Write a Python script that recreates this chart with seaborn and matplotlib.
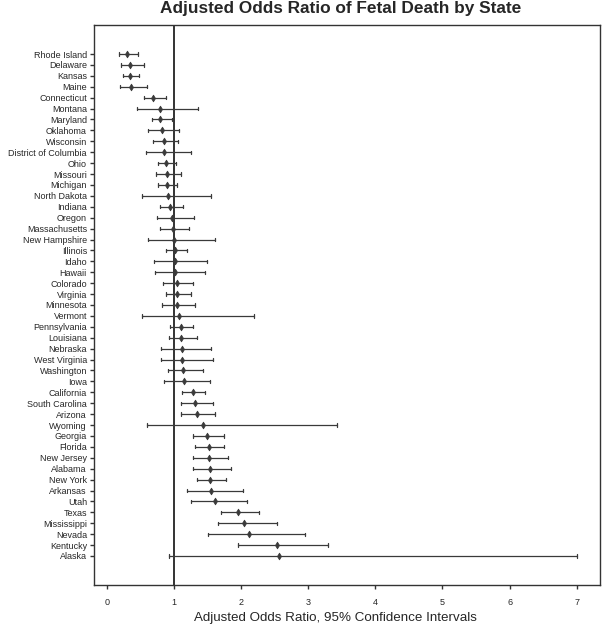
import pandas as pd
import numpy as np
import seaborn as sns
import matplotlib.pyplot as plt

sns.set_style("ticks")
plt.rcParams['font.family'] = ['Liberation Sans', 'DejaVu Sans']

# states ordered top to bottom, with odds ratio and 95% CI
states = ['Rhode Island', 'Delaware', 'Kansas', 'Maine', 'Connecticut', 'Montana', 'Maryland',
          'Oklahoma', 'Wisconsin', 'District of Columbia', 'Ohio', 'Missouri', 'Michigan',
          'North Dakota', 'Indiana', 'Oregon', 'Massachusetts', 'New Hampshire', 'Illinois',
          'Idaho', 'Hawaii', 'Colorado', 'Virginia', 'Minnesota', 'Vermont', 'Pennsylvania',
          'Louisiana', 'Nebraska', 'West Virginia', 'Washington', 'Iowa', 'California',
          'South Carolina', 'Arizona', 'Wyoming', 'Georgia', 'Florida', 'New Jersey', 'Alabama',
          'New York', 'Arkansas', 'Utah', 'Texas', 'Mississippi', 'Nevada', 'Kentucky', 'Alaska']
odds = [0.30, 0.34, 0.35, 0.355, 0.69, 0.79, 0.80, 0.82, 0.86, 0.86, 0.89, 0.90, 0.90,
        0.92, 0.95, 0.98, 0.99, 1.00, 1.02, 1.02, 1.02, 1.04, 1.04, 1.05, 1.07, 1.10,
        1.11, 1.12, 1.12, 1.14, 1.15, 1.28, 1.32, 1.34, 1.44, 1.50, 1.52, 1.52, 1.54,
        1.54, 1.55, 1.62, 1.96, 2.05, 2.12, 2.54, 2.56]
ci_low = [0.185, 0.21, 0.25, 0.20, 0.55, 0.45, 0.67, 0.62, 0.69, 0.59, 0.76, 0.74, 0.77,
          0.53, 0.79, 0.75, 0.80, 0.62, 0.88, 0.71, 0.72, 0.84, 0.88, 0.83, 0.52, 0.95,
          0.93, 0.81, 0.81, 0.91, 0.86, 1.12, 1.10, 1.11, 0.60, 1.29, 1.32, 1.28, 1.28,
          1.34, 1.19, 1.25, 1.70, 1.66, 1.51, 1.96, 0.93]
ci_high = [0.47, 0.55, 0.48, 0.60, 0.88, 1.36, 0.97, 1.08, 1.06, 1.25, 1.03, 1.10, 1.05,
           1.56, 1.14, 1.30, 1.23, 1.62, 1.19, 1.49, 1.46, 1.29, 1.25, 1.32, 2.20, 1.28,
           1.34, 1.56, 1.58, 1.43, 1.54, 1.47, 1.59, 1.62, 3.43, 1.74, 1.75, 1.81, 1.85,
           1.78, 2.03, 2.09, 2.27, 2.54, 2.96, 3.29, 7.01]

# long form: low / estimate / high per state, median = estimate, min-max = CI
df = pd.DataFrame({
    'State': states * 3,
    'OR': ci_low + odds + ci_high,
})

fig = plt.figure(figsize=(6.02, 6.25), dpi=100)
ax = fig.add_axes([0.156, 0.064, 0.84, 0.896])

ax.axvline(1, color='#333333', linewidth=1.4, zorder=1)

sns.pointplot(data=df, x='OR', y='State', order=states, estimator='median',
              errorbar=lambda v: (v.min(), v.max()), linestyle='none', marker='d',
              color='#3a3a3a', capsize=0.3,
              err_kws={'linewidth': 0.9}, ax=ax)
for ln in ax.lines:
    if ln.get_marker() == 'd':
        ln.set_markersize(3.5)
        ln.set_markeredgewidth(0.5)

ax.set_xlim(-0.19, 7.34)
ax.set_ylim(48.66, -2.66)
ax.set_xticks(range(8))
ax.tick_params(axis='both', direction='out', length=3, width=1, color='#333333', labelsize=6.5)
ax.tick_params(axis='x', pad=6.5)
ax.tick_params(axis='y', pad=2)
for s in ax.spines.values():
    s.set_visible(True)
    s.set_color('#333333')
    s.set_linewidth(1.0)

ax.set_ylabel('')
ax.set_xlabel('Adjusted Odds Ratio, 95% Confidence Intervals', fontsize=9.6)
ax.xaxis.set_label_coords(0.478, -0.049)
fig.suptitle('Adjusted Odds Ratio of Fetal Death by State', fontsize=12.4, fontweight='bold',
             x=0.565, y=0.999)

fig.savefig('out.png', dpi=100)
